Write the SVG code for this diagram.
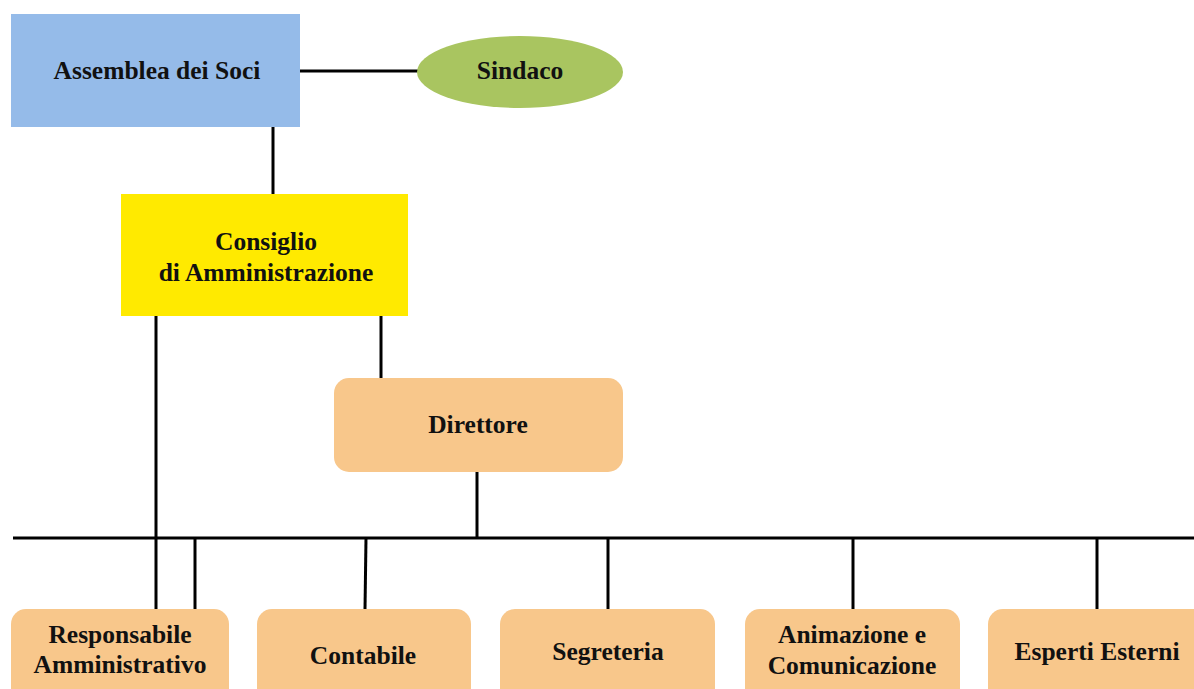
<svg xmlns="http://www.w3.org/2000/svg" width="1194" height="689" viewBox="0 0 1194 689">
<style>
text{font-family:"Liberation Serif","Times New Roman",serif;font-weight:bold;font-size:25.5px;fill:#111;text-anchor:middle}
.ln{stroke:#000;stroke-width:3;fill:none}
.or{fill:#f8c78b}
</style>
<rect width="1194" height="689" fill="#fff"/>
<g id="connectors">
<line class="ln" x1="300" y1="71" x2="418" y2="71"/>
<line class="ln" x1="273" y1="127" x2="273" y2="194"/>
<line class="ln" x1="156" y1="316" x2="156" y2="609"/>
<line class="ln" x1="381" y1="316" x2="381" y2="378"/>
<line class="ln" x1="477" y1="472" x2="477" y2="538"/>
<line class="ln" x1="13" y1="538" x2="1194" y2="538"/>
<line class="ln" x1="195" y1="538" x2="195" y2="609"/>
<line class="ln" x1="366" y1="538" x2="365" y2="609"/>
<line class="ln" x1="608" y1="538" x2="608" y2="609"/>
<line class="ln" x1="853" y1="538" x2="853" y2="609"/>
<line class="ln" x1="1097" y1="538" x2="1097" y2="609"/>
</g>
<g id="assemblea">
<rect x="11" y="14" width="289" height="113" fill="#95bbe9"/>
<text x="157" y="79">Assemblea dei Soci</text>
</g>
<g id="sindaco">
<ellipse cx="520" cy="72" rx="103" ry="36" fill="#a9c560"/>
<text x="520" y="79">Sindaco</text>
</g>
<g id="consiglio">
<rect x="121" y="194" width="287" height="122" fill="#ffea00"/>
<text x="266" y="250">Consiglio</text>
<text x="266" y="281">di Amministrazione</text>
</g>
<g id="direttore">
<rect class="or" x="334" y="378" width="289" height="94" rx="15"/>
<text x="478" y="433">Direttore</text>
</g>
<g id="responsabile">
<rect class="or" x="11" y="609" width="218" height="95" rx="15"/>
<text x="120" y="643">Responsabile</text>
<text x="120" y="673">Amministrativo</text>
</g>
<g id="contabile">
<rect class="or" x="257" y="609" width="214" height="95" rx="15"/>
<text x="363" y="664">Contabile</text>
</g>
<g id="segreteria">
<rect class="or" x="500" y="609" width="215" height="95" rx="15"/>
<text x="608" y="660">Segreteria</text>
</g>
<g id="animazione">
<rect class="or" x="745" y="609" width="215" height="95" rx="15"/>
<text x="852" y="643">Animazione e</text>
<text x="852" y="674">Comunicazione</text>
</g>
<g id="esperti">
<rect class="or" x="988" y="609" width="220" height="95" rx="15"/>
<text x="1097" y="660">Esperti Esterni</text>
</g>
</svg>
